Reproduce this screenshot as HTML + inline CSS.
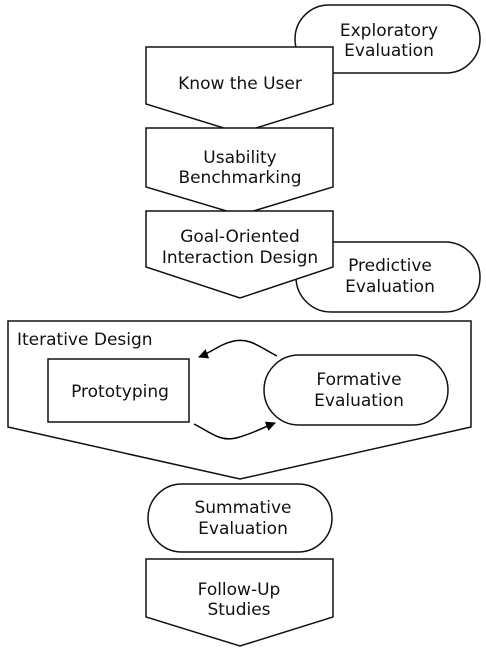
<!DOCTYPE html>
<html><head><meta charset="utf-8"><style>
html,body{margin:0;padding:0;background:#fff;}
svg{display:block;}
text{font-family:"DejaVu Sans","Liberation Sans",sans-serif;font-size:17px;fill:#111;}
</style></head><body>
<svg width="486" height="654" viewBox="0 0 486 654" xmlns="http://www.w3.org/2000/svg">
<defs>
<marker id="ah" markerWidth="10" markerHeight="10" refX="9" refY="5" orient="auto" markerUnits="userSpaceOnUse">
<path d="M0,0 L10,5 L0,10 z" fill="#000"/>
</marker>
</defs>
<g stroke="#111" stroke-width="1.5" fill="#fff">
<!-- Exploratory -->
<rect x="295" y="5" width="185" height="68" rx="34" ry="34"/>
<!-- Know the User -->
<path d="M146,47 L333,47 L333,104 L240,133 L146,104 Z"/>
<!-- Usability -->
<path d="M146,128 L333,128 L333,187 L240,215 L146,187 Z"/>
<!-- Predictive -->
<rect x="296" y="242" width="184" height="70" rx="35" ry="35"/>
<!-- Goal -->
<path d="M146,211 L333,211 L333,267 L240,298 L146,267 Z"/>
<!-- Iterative -->
<path d="M8,321 L471,321 L471,427 L240,479 L8,427 Z"/>
<rect x="48" y="359" width="141" height="63"/>
<rect x="264" y="355" width="184" height="70" rx="35" ry="35"/>
<!-- Summative -->
<rect x="148" y="484" width="184" height="68" rx="34" ry="34"/>
<!-- Follow-up -->
<path d="M146,559 L333,559 L333,617 L240,646 L146,617 Z"/>
</g>
<g stroke="#000" stroke-width="1.5" fill="none">
<path d="M277,356 C258,346 250,338 234,341 C220,344 212,352 199,357" marker-end="url(#ah)"/>
<path d="M194,424 C210,432 220,442 236,438 C252,434 262,428 275,423" marker-end="url(#ah)"/>
</g>
<g text-anchor="middle">
<text x="389" y="36">Exploratory</text>
<text x="389" y="56">Evaluation</text>
<text x="240" y="89">Know the User</text>
<text x="240" y="163">Usability</text>
<text x="240" y="183">Benchmarking</text>
<text x="240" y="242">Goal-Oriented</text>
<text x="240" y="263">Interaction Design</text>
<text x="390" y="271">Predictive</text>
<text x="390" y="292">Evaluation</text>
<text x="120" y="397">Prototyping</text>
<text x="359" y="385">Formative</text>
<text x="359" y="406">Evaluation</text>
<text x="243" y="513">Summative</text>
<text x="243" y="534">Evaluation</text>
<text x="239" y="595">Follow-Up</text>
<text x="239" y="615">Studies</text>
</g>
<text x="17" y="345">Iterative Design</text>
</svg>
</body></html>
